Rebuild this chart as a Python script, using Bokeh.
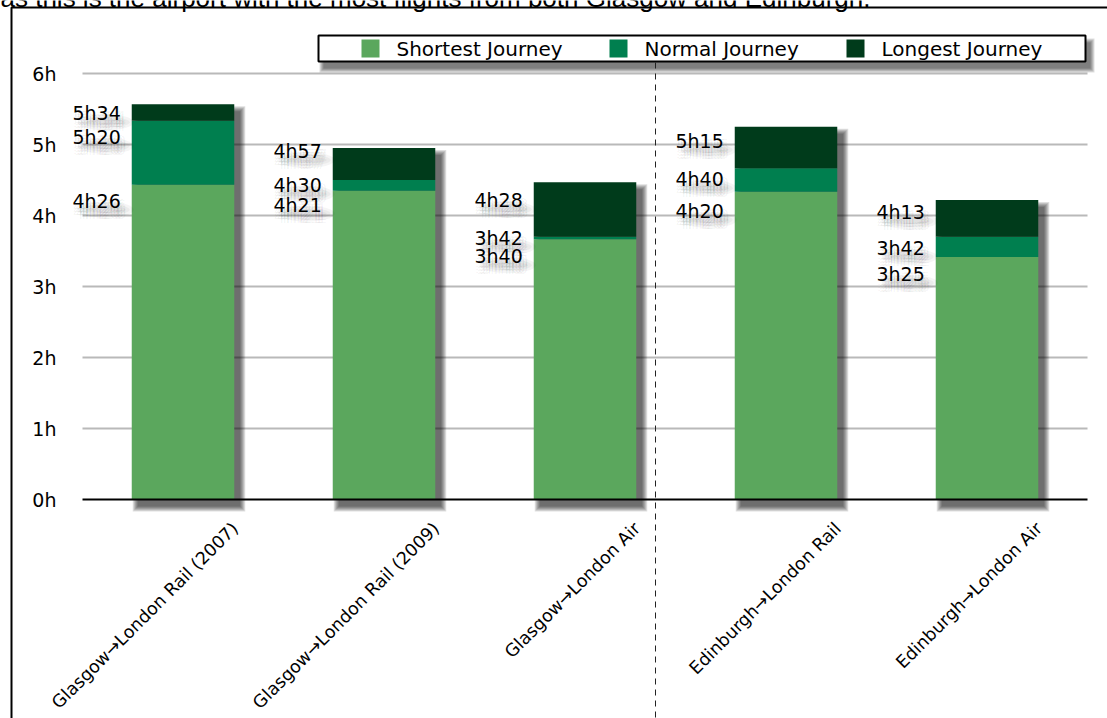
import math
import numpy as np
from bokeh.plotting import figure
from bokeh.models import Range1d, LinearAxis, FixedTicker, Label
from bokeh.core.properties import value
from bokeh.embed import file_html
from bokeh.resources import INLINE

# ---- data -------------------------------------------------------------
routes = [
    "Glasgow→London Rail (2007)",
    "Glasgow→London Rail (2009)",
    "Glasgow→London Air",
    "Edinburgh→London Rail",
    "Edinburgh→London Air",
]
shortest = ["4h26", "4h21", "3h40", "4h20", "3h25"]
normal = ["5h20", "4h30", "3h42", "4h40", "3h42"]
longest = ["5h34", "4h57", "4h28", "5h15", "4h13"]
series_names = ["Shortest Journey", "Normal Journey", "Longest Journey"]
series_colors = ["#5ba75d", "#007f4f", "#003b1b"]
hour_ticks = [0, 1, 2, 3, 4, 5, 6]
hour_labels = ["0h", "1h", "2h", "3h", "4h", "5h", "6h"]


def hours(t):
    h, m = t.split("h")
    return int(h) + int(m) / 60.0


# ---- page geometry (pixels) -------------------------------------------
W, H = 1107, 718
PLOT_L, PLOT_R, AXIS_B = 82, 1087, 515
ZERO_PX, PX_PER_HOUR = 499, 71
n = len(routes)
PX_PER_X = (PLOT_R - PLOT_L) / n


def dx(px):
    return px / PX_PER_X


def dy(px):
    return px / PX_PER_HOUR


def sx(px):
    return (px - PLOT_L) / PX_PER_X


def sy(px):
    return (ZERO_PX - px) / PX_PER_HOUR


FONT = value("DejaVu Sans")

# the drawing area covers the whole canvas; axes sit at fixed positions in it
p = figure(width=W, height=H,
           x_range=Range1d(sx(0), sx(W)), y_range=Range1d(sy(H), sy(0)),
           output_backend="svg", toolbar_location=None, x_axis_location=None,
           min_border=0, min_border_left=0, min_border_right=0,
           min_border_top=0, min_border_bottom=0)
p.outline_line_color = None
p.background_fill_color = "white"
p.border_fill_color = "white"
p.grid.visible = False

# y axis: hours
p.yaxis.fixed_location = sx(PLOT_L)
p.yaxis.ticker = FixedTicker(ticks=hour_ticks)
p.yaxis.major_label_overrides = dict(zip(hour_ticks, hour_labels))
p.yaxis.axis_line_color = None
p.yaxis.major_tick_line_color = None
p.yaxis.minor_tick_line_color = None
p.yaxis.major_tick_out = 0
p.yaxis.major_tick_in = 0
p.yaxis.major_label_standoff = 26
p.yaxis.major_label_text_font = "DejaVu Sans"
p.yaxis.major_label_text_font_size = "19px"
p.yaxis.major_label_text_color = "black"

# route names along the bottom, rotated
LABEL_SHIFT = 52
p.extra_x_ranges = {"route_labels": Range1d(sx(0) - 0.5 - dx(LABEL_SHIFT),
                                            sx(W) - 0.5 - dx(LABEL_SHIFT))}
xa = LinearAxis(x_range_name="route_labels", fixed_location=sy(AXIS_B),
                ticker=FixedTicker(ticks=list(range(n))),
                major_label_overrides={i: r for i, r in enumerate(routes)},
                major_label_orientation=math.pi / 4,
                axis_line_color=None, major_tick_line_color=None,
                minor_tick_line_color=None, major_label_standoff=4,
                major_label_text_font="DejaVu Sans",
                major_label_text_font_size="17.5px",
                major_label_text_color="black")
p.add_layout(xa, "below")

# horizontal guide lines at each hour
p.segment(x0=sx(PLOT_L), x1=sx(PLOT_R), y0=hour_ticks[1:], y1=hour_ticks[1:],
          line_color="#b9b9b9", line_width=2)

# ---- bars -------------------------------------------------------------
centers = np.arange(n) + 0.5
bar_w = 0.51
s_h = np.array([hours(t) for t in shortest])
n_h = np.array([hours(t) for t in normal])
l_h = np.array([hours(t) for t in longest])

# soft drop shadow behind each bar
for spread in range(6):
    p.quad(left=centers - bar_w / 2 + dx(6 - spread), right=centers + bar_w / 2 + dx(6 + spread),
           bottom=-dy(7 + spread), top=l_h - dy(7 - spread),
           fill_color="black", fill_alpha=0.13, line_color=None)

p.vbar(x=centers, width=bar_w, bottom=0, top=s_h, fill_color=series_colors[0], line_color=None)
p.vbar(x=centers, width=bar_w, bottom=s_h, top=n_h, fill_color=series_colors[1], line_color=None)
p.vbar(x=centers, width=bar_w, bottom=n_h, top=l_h, fill_color=series_colors[2], line_color=None)

# baseline at 0h
p.segment(x0=sx(PLOT_L), x1=sx(PLOT_R), y0=hour_ticks[0], y1=hour_ticks[0],
          line_color="black", line_width=2)

# ---- value labels left of each bar ------------------------------------
lab_x, lab_y, lab_t = [], [], []
for i in range(n):
    for arr, txt in ((l_h, longest), (n_h, normal), (s_h, shortest)):
        lab_x.append(centers[i] - bar_w / 2)
        lab_y.append(arr[i])
        lab_t.append(txt[i])
# vertical nudges (px) keeping stacked labels apart
lab_dy = np.array([9, 16, 16,
                   3, 5, 14,
                   18, 1, 17,
                   14, 11, 19,
                   12, 11, 17])
lab_x = np.array(lab_x)
lab_y = np.array(lab_y)

# blurred grey shadow under each label: faint offset copies of the text
for ox in (0, 3, 6):
    for oy in (5, 8, 11):
        p.text(x=lab_x, y=lab_y, text=lab_t, x_offset=-11 + ox,
               y_offset=lab_dy + oy,
               text_align="right", text_baseline="middle",
               text_font=FONT, text_font_size="19px",
               text_color="black", text_alpha=0.035)
for k in range(3):
    p.ellipse(x=lab_x - dx(26), y=lab_y - dy(lab_dy + 9),
              width=40 + 8 * k, height=6 + 5 * k,
              width_units="screen", height_units="screen",
              fill_color="black", fill_alpha=0.04, line_color=None)

p.text(x=lab_x, y=lab_y, text=lab_t, x_offset=-11, y_offset=lab_dy,
       text_align="right", text_baseline="middle",
       text_font=FONT, text_font_size="19px", text_color="black")

# ---- legend box across the top ----------------------------------------
LG_L, LG_R, LG_T, LG_B = 318, 1085, 35, 61
SW_X = [361, 609, 846]
SW_SIZE = 18
for spread in range(5):
    p.quad(left=sx(LG_L + 5 - spread), right=sx(LG_R + 5 + spread),
           top=sy(LG_T + 7 - spread), bottom=sy(LG_B + 7 + spread),
           fill_color="black", fill_alpha=0.13, line_color=None)
p.quad(left=sx(LG_L), right=sx(LG_R), top=sy(LG_T), bottom=sy(LG_B),
       fill_color="white", line_color="black", line_width=2)
mid = (LG_T + LG_B) / 2
for name, col, x0 in zip(series_names, series_colors, SW_X):
    p.quad(left=sx(x0), right=sx(x0 + SW_SIZE), top=sy(mid - SW_SIZE / 2),
           bottom=sy(mid + SW_SIZE / 2), fill_color=col, line_color=None)
    p.text(x=[sx(x0 + SW_SIZE + 17)], y=[sy(mid)], text=[name],
           text_align="left", text_baseline="middle",
           text_font=FONT, text_font_size="20px", text_color="black")

# dashed divider between Glasgow and Edinburgh routes
p.segment(x0=sx(655), x1=sx(655), y0=sy(LG_B + 1), y1=sy(H + 5),
          line_color="#222222", line_width=1, line_dash="6 5")

# surrounding page frame and caption line above it
p.line(x=[sx(11), sx(11), sx(W + 10)], y=[sy(H + 10), sy(7), sy(7)],
       line_color="black", line_width=2)
p.add_layout(Label(x=sx(0), y=sy(-3),
                   text="as this is the airport with the most flights from both Glasgow and Edinburgh.",
                   text_font="Liberation Sans", text_font_size="26px",
                   text_baseline="alphabetic", text_align="left", text_color="black"))

open("out.html", "w").write(file_html(p, INLINE))
